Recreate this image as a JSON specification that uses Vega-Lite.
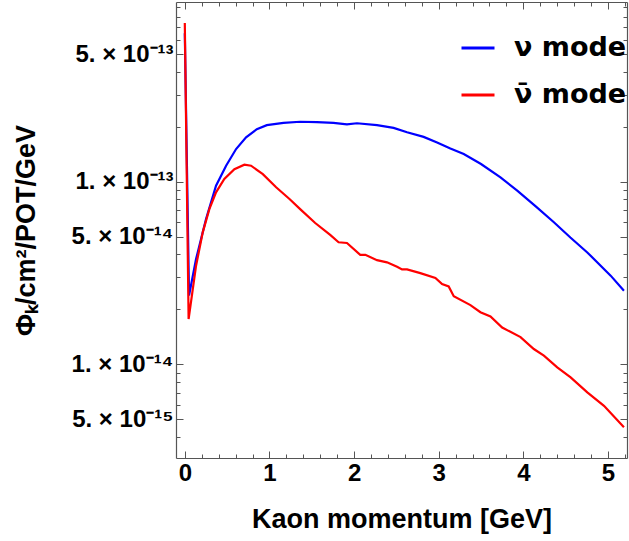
{
  "$schema": "https://vega.github.io/schema/vega-lite/v6.json",
  "width": 451,
  "height": 456,
  "padding": {"left": 12, "top": 1, "right": 2, "bottom": 5},
  "config": {
    "view": {"stroke": null},
    "font": "Liberation Sans",
    "axis": {
      "domainColor": "#555555",
      "domainWidth": 1.2,
      "tickColor": "#555555",
      "labelFont": "Liberation Sans",
      "labelFontWeight": "bold",
      "labelFontSize": 24,
      "labelColor": "#000000",
      "titleFont": "Liberation Sans",
      "titleFontWeight": "bold",
      "titleFontSize": 27,
      "titleColor": "#000000",
      "grid": false
    }
  },
  "data": {
    "values": [
      {"p": 0.0, "flux": 6.5e-13, "mode": "ν mode"},
      {"p": 0.05, "flux": 2.38e-14, "mode": "ν mode"},
      {"p": 0.133, "flux": 3.77e-14, "mode": "ν mode"},
      {"p": 0.251, "flux": 6.25e-14, "mode": "ν mode"},
      {"p": 0.369, "flux": 9.51e-14, "mode": "ν mode"},
      {"p": 0.488, "flux": 1.224e-13, "mode": "ν mode"},
      {"p": 0.606, "flux": 1.51e-13, "mode": "ν mode"},
      {"p": 0.724, "flux": 1.75e-13, "mode": "ν mode"},
      {"p": 0.851, "flux": 1.94e-13, "mode": "ν mode"},
      {"p": 0.969, "flux": 2.04e-13, "mode": "ν mode"},
      {"p": 1.166, "flux": 2.10e-13, "mode": "ν mode"},
      {"p": 1.363, "flux": 2.13e-13, "mode": "ν mode"},
      {"p": 1.561, "flux": 2.12e-13, "mode": "ν mode"},
      {"p": 1.757, "flux": 2.10e-13, "mode": "ν mode"},
      {"p": 1.916, "flux": 2.06e-13, "mode": "ν mode"},
      {"p": 2.034, "flux": 2.09e-13, "mode": "ν mode"},
      {"p": 2.271, "flux": 2.04e-13, "mode": "ν mode"},
      {"p": 2.467, "flux": 1.97e-13, "mode": "ν mode"},
      {"p": 2.626, "flux": 1.865e-13, "mode": "ν mode"},
      {"p": 2.822, "flux": 1.76e-13, "mode": "ν mode"},
      {"p": 2.981, "flux": 1.64e-13, "mode": "ν mode"},
      {"p": 3.138, "flux": 1.52e-13, "mode": "ν mode"},
      {"p": 3.296, "flux": 1.418e-13, "mode": "ν mode"},
      {"p": 3.5, "flux": 1.25e-13, "mode": "ν mode"},
      {"p": 3.73, "flux": 1.057e-13, "mode": "ν mode"},
      {"p": 3.928, "flux": 8.93e-14, "mode": "ν mode"},
      {"p": 4.15, "flux": 7.3e-14, "mode": "ν mode"},
      {"p": 4.361, "flux": 6.0e-14, "mode": "ν mode"},
      {"p": 4.556, "flux": 4.95e-14, "mode": "ν mode"},
      {"p": 4.756, "flux": 4.1e-14, "mode": "ν mode"},
      {"p": 5.032, "flux": 3.06e-14, "mode": "ν mode"},
      {"p": 5.189, "flux": 2.53e-14, "mode": "ν mode"},
      {"p": 0.0, "flux": 7.4e-13, "mode": "ν̄ mode"},
      {"p": 0.045, "flux": 1.77e-14, "mode": "ν̄ mode"},
      {"p": 0.133, "flux": 3.47e-14, "mode": "ν̄ mode"},
      {"p": 0.212, "flux": 5.28e-14, "mode": "ν̄ mode"},
      {"p": 0.29, "flux": 7.08e-14, "mode": "ν̄ mode"},
      {"p": 0.369, "flux": 8.75e-14, "mode": "ν̄ mode"},
      {"p": 0.467, "flux": 1.035e-13, "mode": "ν̄ mode"},
      {"p": 0.586, "flux": 1.17e-13, "mode": "ν̄ mode"},
      {"p": 0.704, "flux": 1.239e-13, "mode": "ν̄ mode"},
      {"p": 0.783, "flux": 1.224e-13, "mode": "ν̄ mode"},
      {"p": 0.922, "flux": 1.10e-13, "mode": "ν̄ mode"},
      {"p": 1.079, "flux": 9.32e-14, "mode": "ν̄ mode"},
      {"p": 1.237, "flux": 8.04e-14, "mode": "ν̄ mode"},
      {"p": 1.363, "flux": 7.08e-14, "mode": "ν̄ mode"},
      {"p": 1.541, "flux": 5.94e-14, "mode": "ν̄ mode"},
      {"p": 1.718, "flux": 5.11e-14, "mode": "ν̄ mode"},
      {"p": 1.817, "flux": 4.66e-14, "mode": "ν̄ mode"},
      {"p": 1.916, "flux": 4.62e-14, "mode": "ν̄ mode"},
      {"p": 2.073, "flux": 3.98e-14, "mode": "ν̄ mode"},
      {"p": 2.133, "flux": 3.98e-14, "mode": "ν̄ mode"},
      {"p": 2.271, "flux": 3.72e-14, "mode": "ν̄ mode"},
      {"p": 2.389, "flux": 3.62e-14, "mode": "ν̄ mode"},
      {"p": 2.508, "flux": 3.42e-14, "mode": "ν̄ mode"},
      {"p": 2.567, "flux": 3.31e-14, "mode": "ν̄ mode"},
      {"p": 2.626, "flux": 3.31e-14, "mode": "ν̄ mode"},
      {"p": 2.783, "flux": 3.16e-14, "mode": "ν̄ mode"},
      {"p": 2.961, "flux": 2.97e-14, "mode": "ν̄ mode"},
      {"p": 3.04, "flux": 2.75e-14, "mode": "ν̄ mode"},
      {"p": 3.118, "flux": 2.67e-14, "mode": "ν̄ mode"},
      {"p": 3.178, "flux": 2.36e-14, "mode": "ν̄ mode"},
      {"p": 3.375, "flux": 2.11e-14, "mode": "ν̄ mode"},
      {"p": 3.493, "flux": 1.93e-14, "mode": "ν̄ mode"},
      {"p": 3.612, "flux": 1.83e-14, "mode": "ν̄ mode"},
      {"p": 3.75, "flux": 1.59e-14, "mode": "ν̄ mode"},
      {"p": 3.967, "flux": 1.41e-14, "mode": "ν̄ mode"},
      {"p": 4.124, "flux": 1.213e-14, "mode": "ν̄ mode"},
      {"p": 4.243, "flux": 1.115e-14, "mode": "ν̄ mode"},
      {"p": 4.401, "flux": 9.63e-15, "mode": "ν̄ mode"},
      {"p": 4.559, "flux": 8.49e-15, "mode": "ν̄ mode"},
      {"p": 4.756, "flux": 7.03e-15, "mode": "ν̄ mode"},
      {"p": 4.953, "flux": 5.93e-15, "mode": "ν̄ mode"},
      {"p": 5.189, "flux": 4.52e-15, "mode": "ν̄ mode"}
    ]
  },
  "layer": [
    {
      "mark": {"type": "line", "strokeWidth": 2.2},
      "encoding": {
        "x": {
          "field": "p",
          "type": "quantitative",
          "scale": {"domain": [-0.104, 5.225], "nice": false, "zero": false},
          "axis": {
            "orient": "bottom",
            "title": "Kaon momentum [GeV]",
            "titlePadding": 21,
            "labelPadding": 10,
            "values": [0, 0.2, 0.4, 0.6, 0.8, 1, 1.2, 1.4, 1.6, 1.8, 2, 2.2, 2.4, 2.6, 2.8, 3, 3.2, 3.4, 3.6, 3.8, 4, 4.2, 4.4, 4.6, 4.8, 5, 5.2],
            "labelExpr": "abs(datum.value - round(datum.value)) < 0.001 ? format(datum.value, 'd') : ''",
            "tickSize": {"condition": {"test": "abs(datum.value - round(datum.value)) < 0.001", "value": -7}, "value": -4}
          }
        },
        "y": {
          "field": "flux",
          "type": "quantitative",
          "scale": {"type": "log", "domain": [3.07e-15, 9.64e-13], "nice": false},
          "axis": {
            "orient": "left",
            "title": "Φₖ/cm²/POT/GeV",
            "titlePadding": 31,
            "labelPadding": 10,
            "values": [3e-15, 4e-15, 5e-15, 6e-15, 7e-15, 8e-15, 9e-15, 1e-14, 2e-14, 3e-14, 4e-14, 5e-14, 6e-14, 7e-14, 8e-14, 9e-14, 1e-13, 2e-13, 3e-13, 4e-13, 5e-13, 6e-13, 7e-13, 8e-13, 9e-13],
            "labelExpr": "(round(datum.value / pow(10, floor(log(datum.value) / LN10 + 1e-6))) == 1 || round(datum.value / pow(10, floor(log(datum.value) / LN10 + 1e-6))) == 5) ? (round(datum.value / pow(10, floor(log(datum.value) / LN10 + 1e-6))) + '. × 10⁻¹' + (floor(log(datum.value) / LN10 + 1e-6) == -13 ? '³' : floor(log(datum.value) / LN10 + 1e-6) == -14 ? '⁴' : '⁵')) : ''",
            "tickSize": {"condition": {"test": "round(datum.value / pow(10, floor(log(datum.value) / LN10 + 1e-6))) == 1 || round(datum.value / pow(10, floor(log(datum.value) / LN10 + 1e-6))) == 5", "value": -7}, "value": -4}
          }
        },
        "color": {
          "field": "mode",
          "type": "nominal",
          "scale": {"domain": ["ν mode", "ν̄ mode"], "range": ["#0000ff", "#ff0000"]},
          "legend": {
            "title": null,
            "orient": "none",
            "legendX": 284,
            "legendY": 28,
            "symbolType": "stroke",
            "symbolSize": 1089,
            "symbolStrokeWidth": 3,
            "labelFont": "DejaVu Sans",
            "labelFontWeight": "bold",
            "labelFontSize": 27,
            "labelColor": "#000000",
            "labelOffset": 18,
            "rowPadding": 16
          }
        }
      }
    },
    {
      "mark": {"type": "line", "strokeOpacity": 0},
      "encoding": {
        "x": {
          "field": "p",
          "type": "quantitative",
          "axis": {
            "orient": "top",
            "title": null,
            "labels": false,
            "values": [0, 0.2, 0.4, 0.6, 0.8, 1, 1.2, 1.4, 1.6, 1.8, 2, 2.2, 2.4, 2.6, 2.8, 3, 3.2, 3.4, 3.6, 3.8, 4, 4.2, 4.4, 4.6, 4.8, 5, 5.2],
            "tickSize": {"condition": {"test": "abs(datum.value - round(datum.value)) < 0.001", "value": -7}, "value": -4}
          }
        },
        "y": {
          "field": "flux",
          "type": "quantitative",
          "axis": {
            "orient": "right",
            "title": null,
            "labels": false,
            "values": [3e-15, 4e-15, 5e-15, 6e-15, 7e-15, 8e-15, 9e-15, 1e-14, 2e-14, 3e-14, 4e-14, 5e-14, 6e-14, 7e-14, 8e-14, 9e-14, 1e-13, 2e-13, 3e-13, 4e-13, 5e-13, 6e-13, 7e-13, 8e-13, 9e-13],
            "tickSize": {"condition": {"test": "round(datum.value / pow(10, floor(log(datum.value) / LN10 + 1e-6))) == 1 || round(datum.value / pow(10, floor(log(datum.value) / LN10 + 1e-6))) == 5", "value": -7}, "value": -4}
          }
        },
        "detail": {"field": "mode", "type": "nominal"}
      }
    }
  ],
  "resolve": {"axis": {"x": "independent", "y": "independent"}}
}
